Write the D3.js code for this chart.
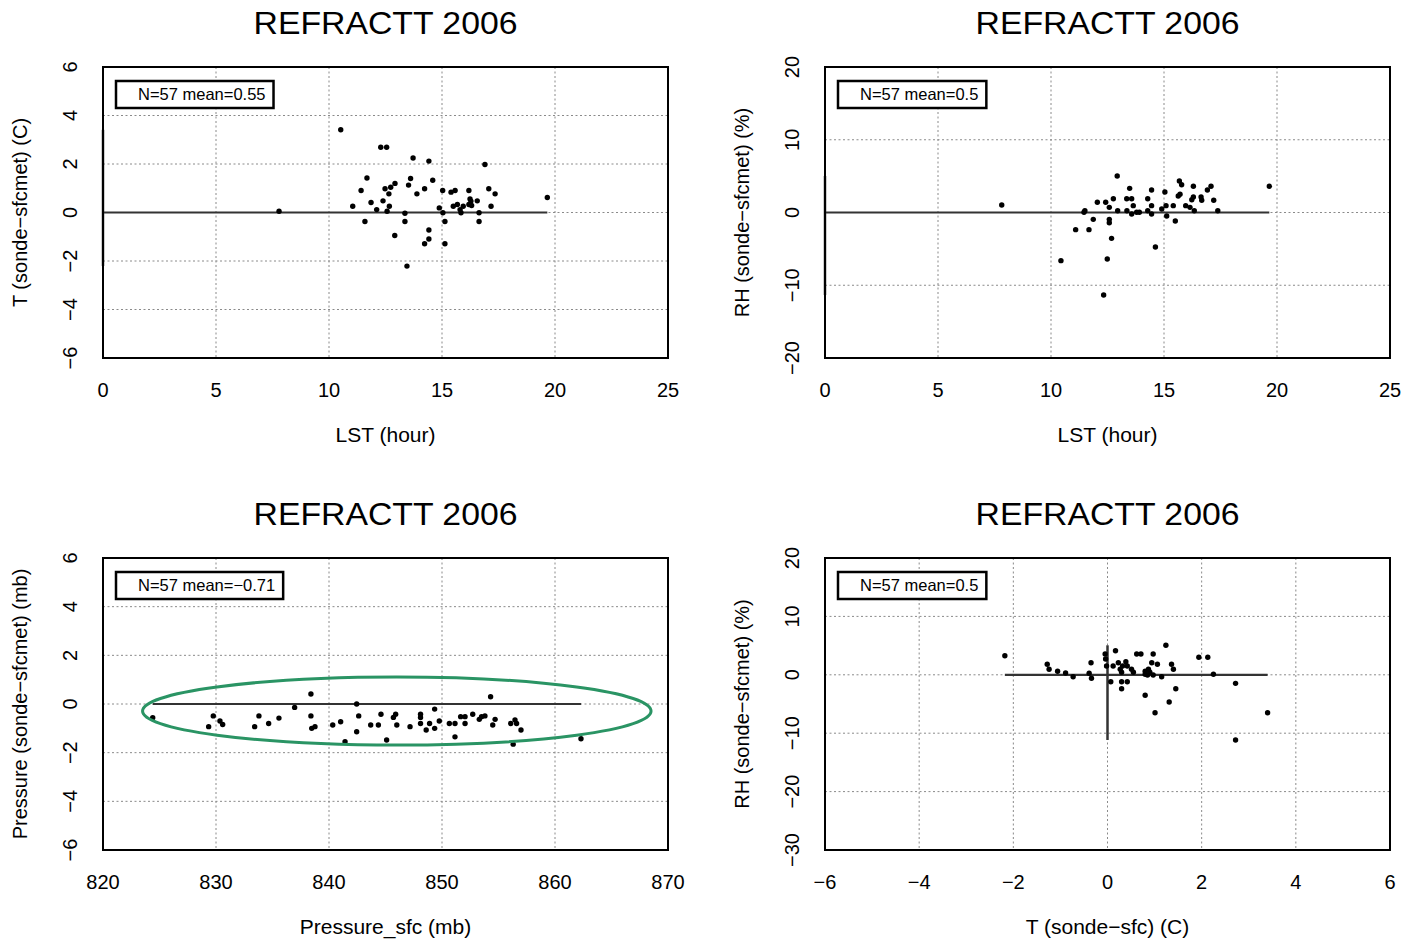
<!DOCTYPE html>
<html>
<head>
<meta charset="utf-8">
<script src="https://cdn.jsdelivr.net/npm/d3@7"></script>
<style>
  body { margin: 0; background: #fff; }
  text { font-family: "Liberation Sans", Arial, Helvetica, sans-serif; fill: #000; }
</style>
</head>
<body>
<div id="chart"></div>
<script>
// panel 1: T difference vs local time
let hourT = [7.79, 10.52, 12.29, 12.55, 13.72, 14.42, 16.9, 11.68, 13.61, 13.52, 12.92, 12.73, 12.48, 12.65,
  11.42, 14.59, 14.23, 13.89, 15.03, 15.4, 15.58, 16.19, 17.07, 17.35, 19.66, 11.86, 12.39, 11.05, 12.11,
  12.57, 12.67, 13.36, 13.36, 11.59, 12.91, 14.88, 15.04, 15.13, 14.42, 14.42, 14.23, 15.13, 13.45, 15.5,
  15.68, 15.8, 15.84, 15.94, 16.19, 16.24, 16.28, 16.31, 16.56, 16.64, 16.64, 17.17]
let tDiff = [0.05, 3.41, 2.69, 2.69, 2.25, 2.12, 1.98, 1.42, 1.40, 1.13, 1.20, 1.04, 0.98, 0.77,
  0.91, 1.33, 0.98, 0.77, 0.91, 0.84, 0.91, 0.91, 0.98, 0.77, 0.62, 0.41, 0.48, 0.26, 0.12,
  0.05, 0.26, -0.03, -0.37, -0.37, -0.95, 0.19, -0.01, -0.37, -0.72, -1.09, -1.29, -1.29, -2.21, 0.26,
  0.33, 0.12, -0.01, 0.26, 0.33, 0.56, 0.47, 0.29, 0.48, -0.01, -0.37, 0.26]

// panel 2: RH difference vs local time
let hourRH = [7.82, 12.93, 13.48, 14.45, 15.04, 15.68, 15.78, 16.3, 17.08, 16.92, 19.66, 12.05, 12.42, 12.76,
  13.35, 13.57, 14.28, 12.58, 13.64, 14.45, 15.09, 15.41, 15.63, 15.71, 15.96, 16.15, 16.23, 16.3, 16.64,
  16.67, 17.2, 11.5, 11.46, 12.95, 13.36, 13.57, 13.79, 13.91, 14.28, 14.45, 14.9, 15.12, 16.34, 17.38,
  11.87, 12.58, 12.58, 15.5, 11.09, 11.68, 12.68, 14.62, 10.44, 12.49, 12.33]
let rhDiff = [1.03, 5.02, 3.32, 3.09, 2.82, 4.33, 3.82, 3.6, 3.6, 3.09, 3.6, 1.4, 1.4, 1.9,
  1.9, 1.9, 1.9, 0.71, 0.94, 0.94, 0.94, 0.94, 2.27, 2.5, 0.94, 0.71, 1.76, 2.13, 2.13,
  1.68, 1.68, 0.25, 0.03, 0.25, 0.25, -0.21, 0.03, 0.03, 0.25, -0.21, 0.48, -0.48, 0.25, 0.25,
  -0.94, -0.94, -1.4, -1.17, -2.36, -2.36, -3.55, -4.74, -6.62, -6.39, -11.34]

// panel 3: pressure difference vs surface pressure
let pSfc = [824.4, 829.76, 829.35, 830.35, 830.59, 833.8, 833.42, 834.66, 835.57, 836.96, 838.4, 838.4, 838.47,
  838.76, 840.33, 841.03, 841.42, 842.45, 842.63, 842.45, 843.69, 844.37, 844.6, 845.1, 845.7, 845.9, 846.0,
  847.17, 848.1, 848.1, 848.1, 848.6, 848.9, 849.35, 849.35, 849.76, 850.65, 851.15, 851.15, 851.65, 852.04,
  852.04, 852.72, 853.3, 853.5, 853.8, 854.3, 854.49, 854.7, 856.08, 856.46, 856.6, 856.3, 856.99, 862.3]
let pDiff = [-0.56, -0.49, -0.93, -0.70, -0.84, -0.49, -0.93, -0.8, -0.58, -0.14, 0.41, -0.49, -1.0,
  -0.93, -0.86, -0.73, -1.55, 0, -0.49, -1.14, -0.86, -0.86, -0.42, -1.48, -0.55, -0.42, -0.86,
  -0.93, -0.42, -0.55, -0.8, -1.07, -0.8, -0.21, -1.0, -0.7, -0.8, -0.8, -1.35, -0.52, -0.52,
  -0.8, -0.42, -0.63, -0.52, -0.49, 0.3, -0.86, -0.63, -0.8, -0.66, -0.8, -1.65, -1.07, -1.43]

// panel 4: RH difference vs T difference
let tSonde = [-2.18, -1.28, -1.24, -1.06, -0.89, -0.73, -0.39, -0.35, -0.34, -0.05, -0.04, -0.02, 0.07, 0.17,
  0.12, 0.23, 0.27, 0.32, 0.39, 0.42, 0.3, 0.51, 0.55, 0.3, 0.42, 0.3, 0.62, 0.71, 0.8, 0.87, 0.9, 0.97,
  0.94, 1.06, 0.97, 1.15, 0.8, 1.24, 1.36, 1.4, 1.45, 1.31, 1.01, 1.94, 2.13, 2.25, 2.72, 3.4, 2.72, 0.8, 0.85]
let rhDiff4 = [3.27, 1.8, 0.94, 0.6, 0.31, -0.33, 0.26, 2.07, -0.6, 3.56, 2.7, 1.5, -1.18, 4.13,
  1.5, 2.07, 0.94, 1.5, 2.24, 1.5, 0.43, 0.94, 0.43, -1.18, -1.18, -2.38, 3.56, 3.56, 0.6, 0.94, 0.43, 3.56,
  2.07, 1.8, -0.03, -0.33, -3.51, 5.05, 1.8, 0.94, -2.38, -4.66, -6.49, 3.0, 3.0, 0.09, -1.46, -6.49, -11.16, 0.1, -0.05]

let titles = ['REFRACTT 2006', 'REFRACTT 2006', 'REFRACTT 2006', 'REFRACTT 2006']
let legends = ['N=57 mean=0.55', 'N=57 mean=0.5', 'N=57 mean=\u22120.71', 'N=57 mean=0.5']
let xLabels = ['LST (hour)', 'LST (hour)', 'Pressure_sfc (mb)', 'T (sonde\u2212sfc) (C)']
let yLabels = ['T (sonde\u2212sfcmet) (C)', 'RH (sonde\u2212sfcmet) (%)', 'Pressure (sonde\u2212sfcmet) (mb)', 'RH (sonde\u2212sfcmet) (%)']
let xTicks = [[0, 5, 10, 15, 20, 25], [0, 5, 10, 15, 20, 25], [820, 830, 840, 850, 860, 870], [-6, -4, -2, 0, 2, 4, 6]]
let yTicks = [[-6, -4, -2, 0, 2, 4, 6], [-20, -10, 0, 10, 20], [-6, -4, -2, 0, 2, 4, 6], [-30, -20, -10, 0, 10, 20]]
let zeroH = [[0, 19.66], [0, 19.66], [824.4, 862.3], [-2.18, 3.4]]
let zeroV = [[-2.21, 3.41], [-11.34, 5.02], null, [-11.16, 5.05]]
// green ellipse drawn around the pressure points: center x, center y, radius x, radius y
let ellipse = [846, -0.29, 22.5, 1.4]

let xs = [hourT, hourRH, pSfc, tSonde]
let ys = [tDiff, rhDiff, pDiff, rhDiff4]

let width = 1418
let height = 942

let svg = d3
  .select('#chart')
  .append('svg')
  .attr('width', width)
  .attr('height', height)

let boxes = [
  { left: 103, top: 67, w: 565, h: 291 },
  { left: 825, top: 67, w: 565, h: 291 },
  { left: 103, top: 558, w: 565, h: 292 },
  { left: 825, top: 558, w: 565, h: 292 }
]

let fmt = d => (d < 0 ? '\u2212' + Math.abs(d) : '' + d)

boxes.forEach((b, i) => {
  let xt = xTicks[i]
  let yt = yTicks[i]
  let x = d3.scaleLinear().domain([xt[0], xt[xt.length - 1]]).range([b.left, b.left + b.w])
  let y = d3.scaleLinear().domain([yt[0], yt[yt.length - 1]]).range([b.top + b.h, b.top])

  let g = svg.append('g')

  // grid
  g.selectAll('.gx')
    .data(xt.slice(1, -1))
    .enter()
    .append('line')
    .attr('x1', d => x(d)).attr('x2', d => x(d))
    .attr('y1', b.top).attr('y2', b.top + b.h)
    .attr('stroke', '#8a8a8a')
    .attr('stroke-width', 1)
    .attr('stroke-dasharray', '2,2.5')

  g.selectAll('.gy')
    .data(yt.slice(1, -1))
    .enter()
    .append('line')
    .attr('y1', d => y(d)).attr('y2', d => y(d))
    .attr('x1', b.left).attr('x2', b.left + b.w)
    .attr('stroke', '#8a8a8a')
    .attr('stroke-width', 1)
    .attr('stroke-dasharray', '2,2.5')

  // zero lines
  g.append('line')
    .attr('x1', x(zeroH[i][0])).attr('x2', x(zeroH[i][1]))
    .attr('y1', y(0)).attr('y2', y(0))
    .attr('stroke', '#333')
    .attr('stroke-width', 2.2)

  if (zeroV[i]) {
    g.append('line')
      .attr('x1', x(0)).attr('x2', x(0))
      .attr('y1', y(zeroV[i][0])).attr('y2', y(zeroV[i][1]))
      .attr('stroke', '#333')
      .attr('stroke-width', 2.5)
  }

  // points
  g.selectAll('.pt')
    .data(xs[i].map((d, j) => [d, ys[i][j]]))
    .enter()
    .append('circle')
    .attr('cx', d => x(d[0]))
    .attr('cy', d => y(d[1]))
    .attr('r', 2.7)
    .attr('fill', '#000')

  // frame
  g.append('rect')
    .attr('x', b.left).attr('y', b.top)
    .attr('width', b.w).attr('height', b.h)
    .attr('fill', 'none')
    .attr('stroke', '#000')
    .attr('stroke-width', 2)

  // legend box
  let lg = g.append('g')
  let lt = lg.append('text')
    .attr('x', b.left + 35)
    .attr('y', b.top + 33)
    .attr('font-size', 16.5)
    .text(legends[i])
  let tw = lt.node().getComputedTextLength()
  lg.insert('rect', 'text')
    .attr('x', b.left + 13).attr('y', b.top + 14)
    .attr('width', tw + 30).attr('height', 27)
    .attr('fill', '#fff')
    .attr('stroke', '#000')
    .attr('stroke-width', 2.5)

  // tick labels
  g.selectAll('.xl')
    .data(xt)
    .enter()
    .append('text')
    .attr('x', d => x(d))
    .attr('y', b.top + b.h + 39)
    .attr('text-anchor', 'middle')
    .attr('font-size', 20)
    .text(fmt)

  g.selectAll('.yl')
    .data(yt)
    .enter()
    .append('text')
    .attr('transform', d => `translate(${b.left - 26},${y(d)}) rotate(-90)`)
    .attr('text-anchor', 'middle')
    .attr('font-size', 20)
    .text(fmt)

  // titles
  g.append('text')
    .attr('x', b.left + b.w / 2)
    .attr('y', b.top - 33)
    .attr('text-anchor', 'middle')
    .attr('font-size', 32)
    .attr('textLength', 264)
    .attr('lengthAdjust', 'spacingAndGlyphs')
    .text(titles[i])

  g.append('text')
    .attr('x', b.left + b.w / 2)
    .attr('y', b.top + b.h + 84)
    .attr('text-anchor', 'middle')
    .attr('font-size', 21)
    .text(xLabels[i])

  g.append('text')
    .attr('transform', `translate(${b.left - 76},${b.top + b.h / 2}) rotate(-90)`)
    .attr('text-anchor', 'middle')
    .attr('font-size', 20)
    .text(yLabels[i])

  if (i === 2) {
    g.append('ellipse')
      .attr('cx', x(ellipse[0]))
      .attr('cy', y(ellipse[1]))
      .attr('rx', x(ellipse[0] + ellipse[2]) - x(ellipse[0]))
      .attr('ry', y(ellipse[1] - ellipse[3]) - y(ellipse[1]))
      .attr('fill', 'none')
      .attr('stroke', '#2a9464')
      .attr('stroke-width', 3)
  }
})
</script>
</body>
</html>
